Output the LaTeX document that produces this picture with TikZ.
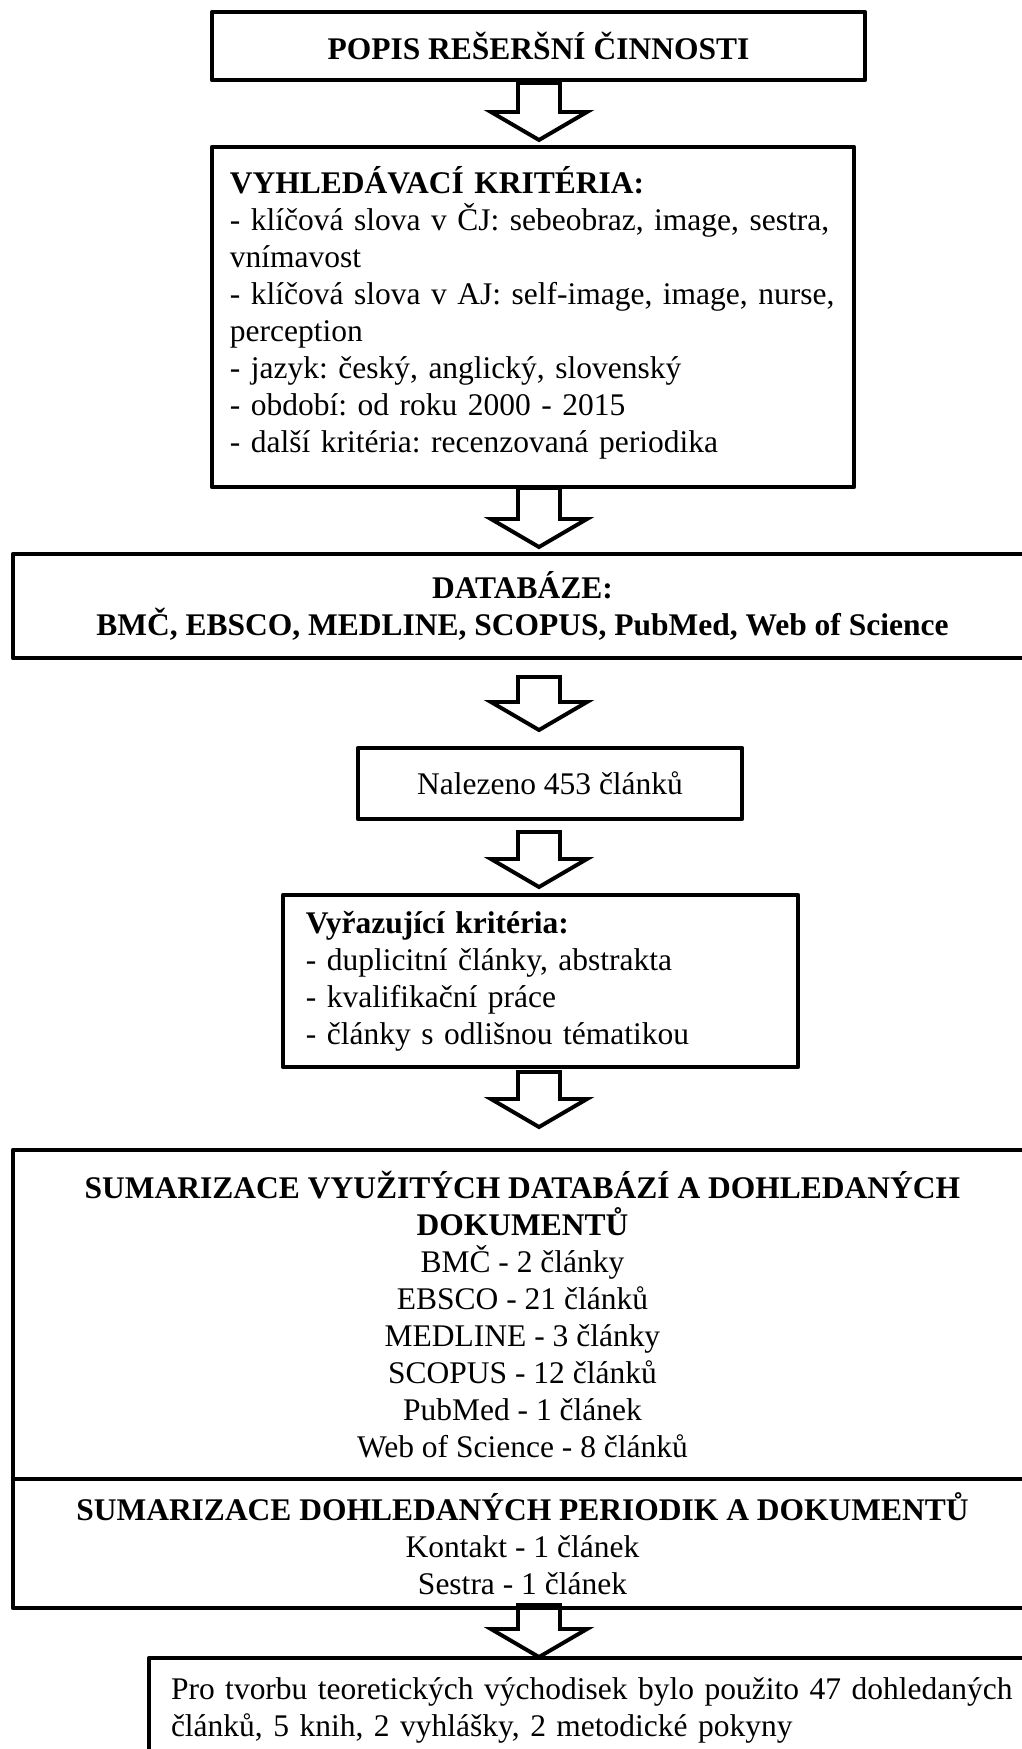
\documentclass[tikz,border=0pt]{standalone}
\usepackage{fontspec}
\setmainfont{Liberation Serif}
\usetikzlibrary{calc}

\begin{document}
\begin{tikzpicture}[x=0.381pt,y=-0.381pt,
    box/.style 2 args={draw,line width=1.7pt,line join=round,
      minimum width=#1*0.381pt,minimum height=#2*0.381pt,
      inner sep=0pt,outer sep=0pt,anchor=north west,
      font=\fontsize{12}{14.1}\selectfont\frenchspacing},
    blockarrow/.style={draw,line width=1.5pt,to path={
        ($(\tikztostart)+(-21,0)$) -- ($(\tikztotarget)+(-21,-28)$)
        -- ($(\tikztotarget)+(-48,-28)$) -- (\tikztotarget)
        -- ($(\tikztotarget)+(48,-28)$) -- ($(\tikztotarget)+(21,-28)$)
        -- ($(\tikztostart)+(21,0)$) -- cycle}}]
  \useasboundingbox (0,0) rectangle (1022,1749);
  % boxes
  \node[box={653}{68},align=center] (popis) at (212,12)
  {\textbf{POPIS REŠERŠNÍ ČINNOSTI}};
  \node[box={642}{340},align=left,text width=230.9pt] (krit) at (212,147)
  {\textbf{VYHLEDÁVACÍ KRITÉRIA:}\\
    - klíčová slova v ČJ: sebeobraz, image, sestra,\\
    vnímavost\\
    - klíčová slova v AJ: self-image, image, nurse,\\
    perception\\
    - jazyk: český, anglický, slovenský\\
    - období: od roku 2000 - 2015\\
    - další kritéria: recenzovaná periodika\rule[-6pt]{0pt}{6pt}};
  \node[box={1019}{104},align=center] (datab) at (13,554)
  {\textbf{DATABÁZE:}\\
    \textbf{BMČ, EBSCO, MEDLINE, SCOPUS, PubMed, Web of Science}};
  \node[box={384}{71},align=center] (nalez) at (358,748)
  {Nalezeno 453 článků};
  \node[box={515}{172},align=left,text width=178.7pt] (vyraz) at (283,895)
  {\textbf{Vyřazující kritéria:}\\
    - duplicitní články, abstrakta\\
    - kvalifikační práce\\
    - články s odlišnou tématikou};
  \node[box={1019}{329},align=center] (sumdb) at (13,1150)
  {\textbf{SUMARIZACE VYUŽITÝCH DATABÁZÍ A DOHLEDANÝCH}\\
    \textbf{DOKUMENTŮ}\\
    BMČ - 2 články\\
    EBSCO - 21 článků\\
    MEDLINE - 3 články\\
    SCOPUS - 12 článků\\
    PubMed - 1 článek\\
    Web of Science - 8 článků};
  \node[box={1019}{129},align=center] (sumper) at (13,1479)
  {\textbf{SUMARIZACE DOHLEDANÝCH PERIODIK A DOKUMENTŮ}\\
    Kontakt - 1 článek\\
    Sestra - 1 článek};
  \node[box={891}{104},align=left,text width=322.7pt] (zaver) at (149,1658)
  {Pro tvorbu teoretických východisek bylo použito 47 dohledaných\\
    článků, 5 knih, 2 vyhlášky, 2 metodické pokyny};
  % arrows
  \coordinate (ax) at (539,0);
  \draw[blockarrow] ($(popis.south -| ax)+(0,3)$) to ($(krit.north -| ax)+(0,-7)$);
  \draw[blockarrow] ($(krit.south -| ax)+(0,1)$) to ($(datab.north -| ax)+(0,-7)$);
  \draw[blockarrow] ($(datab.south -| ax)+(0,19)$) to ($(nalez.north -| ax)+(0,-18)$);
  \draw[blockarrow] ($(nalez.south -| ax)+(0,13)$) to ($(vyraz.north -| ax)+(0,-8)$);
  \draw[blockarrow] ($(vyraz.south -| ax)+(0,5)$) to ($(sumdb.north -| ax)+(0,-23)$);
  \draw[blockarrow] ($(sumper.south -| ax)+(0,-3)$) to ($(zaver.north -| ax)+(0,-1)$);
\end{tikzpicture}
\end{document}
